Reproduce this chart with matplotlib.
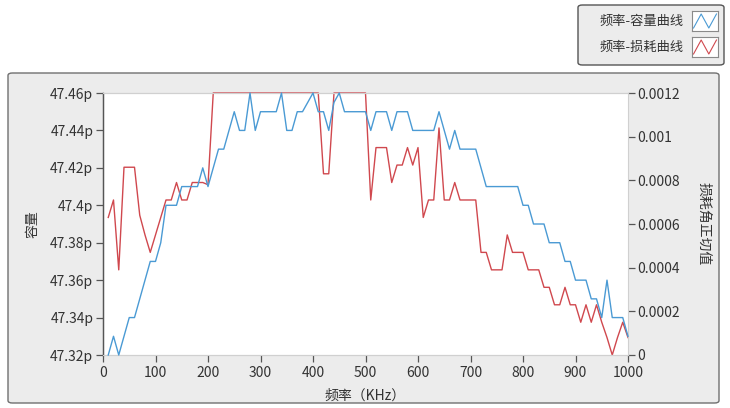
"""
    频率-容量 / 频率-损耗 双轴曲线
"""
import numpy as np
import matplotlib as mpl
import matplotlib.pyplot as plt
from matplotlib.patches import FancyBboxPatch

plt.rcParams['font.family'] = ['Noto Sans CJK SC', 'DejaVu Sans']

# data
freq = list(range(10, 1001, 10))  # KHz

capacity = [
    47.32, 47.33, 47.32, 47.33, 47.34, 47.34, 47.35, 47.36, 47.37, 47.37,
    47.38, 47.40, 47.40, 47.40, 47.41, 47.41, 47.41, 47.41, 47.42, 47.41,
    47.42, 47.43, 47.43, 47.44, 47.45, 47.44, 47.44, 47.46, 47.44, 47.45,
    47.45, 47.45, 47.45, 47.46, 47.44, 47.44, 47.45, 47.45, 47.455, 47.46,
    47.45, 47.45, 47.44, 47.455, 47.46, 47.45, 47.45, 47.45, 47.45, 47.45,
    47.44, 47.45, 47.45, 47.45, 47.44, 47.45, 47.45, 47.45, 47.44, 47.44,
    47.44, 47.44, 47.44, 47.45, 47.44, 47.43, 47.44, 47.43, 47.43, 47.43,
    47.43, 47.42, 47.41, 47.41, 47.41, 47.41, 47.41, 47.41, 47.41, 47.40,
    47.40, 47.39, 47.39, 47.39, 47.38, 47.38, 47.38, 47.37, 47.37, 47.36,
    47.36, 47.36, 47.35, 47.35, 47.34, 47.36, 47.34, 47.34, 47.34, 47.33,
]

loss = [  # x 1e-4
    6.3, 7.1, 3.9, 8.6, 8.6, 8.6, 6.4, 5.5, 4.7, 5.5,
    6.3, 7.1, 7.1, 7.9, 7.1, 7.1, 7.9, 7.9, 7.9, 7.8,
    12, 12, 12, 12, 12, 12, 12, 12, 12, 12,
    12, 12, 12, 12, 12, 12, 12, 12, 12, 12,
    12, 8.3, 8.3, 12, 12, 12, 12, 12, 12, 12,
    7.1, 9.5, 9.5, 9.5, 7.9, 8.7, 8.7, 9.5, 8.7, 9.5,
    6.3, 7.1, 7.1, 10.4, 7.1, 7.1, 7.9, 7.1, 7.1, 7.1,
    7.1, 4.7, 4.7, 3.9, 3.9, 3.9, 5.5, 4.7, 4.7, 4.7,
    3.9, 3.9, 3.9, 3.1, 3.1, 2.3, 2.3, 3.1, 2.3, 2.3,
    1.5, 2.3, 1.5, 2.3, 1.5, 0.8, 0.0, 0.8, 1.5, 0.8,
]
loss = [v * 1e-4 for v in loss]

x_ticks = list(range(0, 1001, 100))
cap_ticks = [47.32, 47.34, 47.36, 47.38, 47.40, 47.42, 47.44, 47.46]
cap_labels = ['47.32p', '47.34p', '47.36p', '47.38p', '47.4p', '47.42p', '47.44p', '47.46p']
loss_ticks = [0, 0.0002, 0.0004, 0.0006, 0.0008, 0.001, 0.0012]
loss_labels = ['0', '0.0002', '0.0004', '0.0006', '0.0008', '0.001', '0.0012']

legend_names = ['频率-容量曲线', '频率-损耗曲线']
blue = '#4a9ad4'
red = '#d0484e'
txt = '#333333'

W, H = 730, 408
fig = plt.figure(figsize=(W / 100, H / 100), dpi=100)
fig.patch.set_facecolor('white')

# grey panel behind the graph
panel = FancyBboxPatch((8 / W, 5 / H), 711 / W, 330 / H,
                       boxstyle='round,pad=0,rounding_size=0.006',
                       transform=fig.transFigure, facecolor='#ececec',
                       edgecolor='#707070', linewidth=1.0, zorder=-5)
fig.patches.append(panel)

ax = fig.add_axes([103 / W, (H - 355) / H, 525 / W, 262 / H])
ax.set_facecolor('white')
ax2 = ax.twinx()
ax2.set_zorder(ax.get_zorder() - 1)
ax.patch.set_visible(False)
ax2.patch.set_visible(True)
ax2.patch.set_facecolor('white')

ax.plot(freq, capacity, color=blue, linewidth=1.0, zorder=3, clip_on=False)
ax2.plot(freq, loss, color=red, linewidth=1.0, zorder=2, clip_on=False)

ax.set_xlim(0, 1000)
ax.set_ylim(47.32, 47.46)
ax2.set_ylim(0, 0.0012)

ax.set_xticks(x_ticks)
ax.set_xticklabels([str(t) for t in x_ticks])
ax.set_yticks(cap_ticks)
ax.set_yticklabels(cap_labels)
ax2.set_yticks(loss_ticks)
ax2.set_yticklabels(loss_labels)

ax2.set_xticks(x_ticks)
ax2.grid(axis='x', color='#d9d9d9', linewidth=0.8)
ax2.grid(axis='y', visible=False)

ax.tick_params(axis='both', colors='#555555', labelcolor=txt, labelsize=10,
               length=5, width=0.9, direction='out', pad=2)
ax.tick_params(axis='x', pad=3)
ax2.tick_params(axis='y', colors='#555555', labelcolor=txt, labelsize=10,
                length=5, width=0.9, direction='out', pad=2)

for a in (ax, ax2):
    for s in ('top', 'right', 'bottom'):
        a.spines[s].set_color('#d0d0d0')
        a.spines[s].set_linewidth(0.8)
    a.spines['left'].set_color('#555555')
    a.spines['left'].set_linewidth(0.9)
ax2.spines['right'].set_visible(False)

ax.set_xlabel('频率（KHz）', fontsize=10, color=txt, labelpad=6)
ax.set_ylabel('容量', fontsize=10, color=txt, labelpad=8)
ax2.set_ylabel('损耗角正切值', fontsize=10, color=txt, rotation=-90, labelpad=22)

# legend box in the top right corner
leg = FancyBboxPatch((578 / W, (H - 65) / H), 146 / W, 60 / H,
                     boxstyle='round,pad=0,rounding_size=0.006',
                     transform=fig.transFigure, facecolor='#ececec',
                     edgecolor='#555555', linewidth=1.0, zorder=-5)
fig.patches.append(leg)
for i, (name, col) in enumerate(zip(legend_names, [blue, red])):
    yc = (H - 21 - i * 26) / H
    fig.text(684 / W, yc, name, ha='right', va='center', fontsize=9.5, color=txt)
    icon = fig.add_axes([692 / W, yc - 10 / H, 26 / W, 20 / H])
    icon.plot([0, 1, 2, 3], [0.15, 0.85, 0.15, 0.85], color=col, linewidth=0.8)
    icon.set_xlim(-0.2, 3.2)
    icon.set_ylim(0, 1)
    icon.set_xticks([])
    icon.set_yticks([])
    icon.set_facecolor('white')
    for s in icon.spines.values():
        s.set_color('#8a8a8a')
        s.set_linewidth(0.8)

fig.savefig('out.png', dpi=100)
